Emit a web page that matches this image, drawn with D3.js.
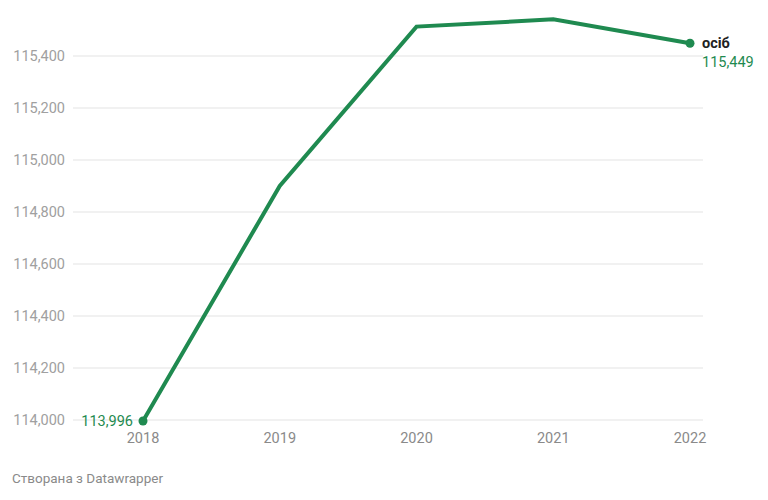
<!DOCTYPE html>
<html>
<head>
<meta charset="utf-8">
<script src="https://cdn.jsdelivr.net/npm/d3@7"></script>
<style>
body { margin:0; background:#fff; font-family: Roboto, "Noto Sans", sans-serif; }
</style>
</head>
<body>
<div id="chart"></div>
<script>
var years = [2018, 2019, 2020, 2021, 2022];
var people = [113996, 114900, 115513, 115541, 115449];
var yTicks = [114000, 114200, 114400, 114600, 114800, 115000, 115200, 115400];
var seriesName = "осіб";

var width = 768, height = 500;
var green = "#1f8a50";
var fmt = d3.format(",");

var svg = d3.select("#chart").append("svg")
	.attr("width", width)
	.attr("height", height);

var x = d3.scaleLinear().domain([2018, 2022]).range([143, 690]);
var y = d3.scaleLinear().domain([114000, 115400]).range([420, 56]);

// grid
svg.append("g")
	.selectAll("line")
	.data(yTicks)
	.enter()
	.append("line")
	.attr("x1", 73)
	.attr("x2", 703)
	.attr("y1", function(d){ return y(d); })
	.attr("y2", function(d){ return y(d); })
	.style("stroke", "#e3e3e3")
	.style("stroke-width", 1);

// y labels
svg.append("g")
	.selectAll("text")
	.data(yTicks)
	.enter()
	.append("text")
	.attr("x", 65)
	.attr("y", function(d){ return y(d); })
	.attr("dy", "0.35em")
	.attr("text-anchor", "end")
	.style("font-size", "14.5px")
	.style("fill", "#a0a0a0")
	.text(function(d){ return fmt(d); });

// x labels
svg.append("g")
	.selectAll("text")
	.data(years)
	.enter()
	.append("text")
	.attr("x", function(d){ return x(d); })
	.attr("y", 443)
	.attr("text-anchor", "middle")
	.style("font-size", "14.5px")
	.style("fill", "#8a8a8a")
	.text(function(d){ return d; });

var pts = years.map(function(yr, i){ return {year: yr, value: people[i]}; });

var line = d3.line()
	.x(function(d){ return x(d.year); })
	.y(function(d){ return y(d.value); });

svg.append("path")
	.datum(pts)
	.attr("d", line)
	.style("fill", "none")
	.style("stroke", green)
	.style("stroke-width", 4)
	.style("stroke-linejoin", "miter");

var first = pts[0], last = pts[pts.length - 1];

svg.selectAll("circle.end")
	.data([first, last])
	.enter()
	.append("circle")
	.attr("class", "end")
	.attr("cx", function(d){ return x(d.year); })
	.attr("cy", function(d){ return y(d.value); })
	.attr("r", 4.5)
	.style("fill", green);

svg.append("text")
	.attr("x", x(first.year) - 10)
	.attr("y", y(first.value))
	.attr("dy", "0.35em")
	.attr("text-anchor", "end")
	.style("font-size", "14.5px")
	.style("fill", green)
	.text(fmt(first.value));

svg.append("text")
	.attr("x", x(last.year) + 12)
	.attr("y", y(last.value))
	.attr("dy", "0.35em")
	.style("font-size", "14.5px")
	.style("font-weight", "bold")
	.style("fill", "#222")
	.text(seriesName);

svg.append("text")
	.attr("x", x(last.year) + 12)
	.attr("y", y(last.value) + 19)
	.attr("dy", "0.35em")
	.style("font-size", "14.5px")
	.style("fill", green)
	.text(fmt(last.value));

svg.append("text")
	.attr("x", 12)
	.attr("y", 483)
	.style("font-size", "13.5px")
	.style("fill", "#8a8a8a")
	.text("Створана з Datawrapper");
</script>
</body>
</html>
